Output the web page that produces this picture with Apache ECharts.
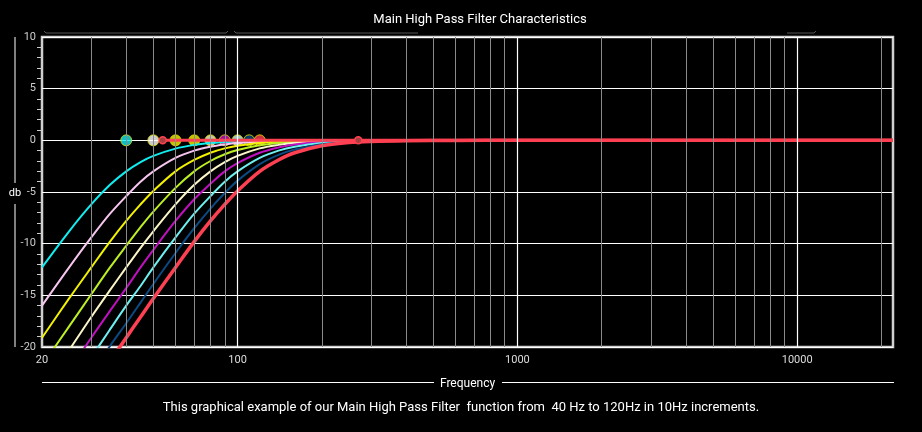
<!DOCTYPE html>
<html>
<head>
<meta charset="utf-8">
<title>Main High Pass Filter Characteristics</title>
<script src="https://cdn.jsdelivr.net/npm/echarts@6/dist/echarts.min.js"></script>
<style>
  html, body { margin: 0; padding: 0; background: #000; }
  #chart { width: 922px; height: 432px; }
</style>
</head>
<body>
<div id="chart"></div>
<script>
var freqs = [20, 25, 30, 35, 40, 45, 50, 60, 70, 80, 90, 100, 120, 140, 160, 200, 250, 300, 400, 600, 1000, 22000];

// cutoff of every curve, and its response in dB at the freqs above
var cutoffs = [40, 50, 60, 70, 80, 90, 100, 110, 120];
var hp40  = [-12.3, -8.8, -6.2, -4.3, -3.0, -2.1, -1.5, -0.8, -0.44, -0.26, -0.17, -0.11, -0.05, -0.03, -0.02, -0.01, 0, 0, 0, 0, 0, 0];
var hp50  = [-16.0, -12.3, -9.4, -7.1, -5.4, -4.0, -3.0, -1.7, -1.0, -0.62, -0.40, -0.26, -0.13, -0.07, -0.04, -0.02, -0.01, 0, 0, 0, 0, 0];
var hp60  = [-19.1, -15.3, -12.3, -9.8, -7.8, -6.2, -4.9, -3.0, -1.9, -1.2, -0.78, -0.53, -0.26, -0.14, -0.09, -0.04, -0.01, -0.01, 0, 0, 0, 0];
var hp70  = [-21.8, -18.0, -14.9, -12.3, -10.2, -8.4, -6.9, -4.6, -3.0, -2.0, -1.35, -0.93, -0.48, -0.26, -0.16, -0.07, -0.03, -0.01, 0, 0, 0, 0];
var hp80  = [-24.1, -20.3, -17.1, -14.5, -12.3, -10.4, -8.8, -6.2, -4.3, -3.0, -2.1, -1.5, -0.78, -0.44, -0.26, -0.11, -0.05, -0.02, -0.01, 0, 0, 0];
var hp90  = [-26.1, -22.3, -19.1, -16.5, -14.3, -12.3, -10.6, -7.8, -5.7, -4.2, -3.0, -2.2, -1.2, -0.69, -0.41, -0.17, -0.07, -0.04, -0.01, 0, 0, 0];
var hp100 = [-28.0, -24.1, -21.0, -18.3, -16.0, -14.1, -12.3, -9.4, -7.1, -5.4, -4.0, -3.0, -1.7, -1.0, -0.62, -0.26, -0.11, -0.05, -0.02, 0, 0, 0];
var hp110 = [-29.6, -25.8, -22.6, -19.9, -17.7, -15.7, -13.9, -10.9, -8.5, -6.6, -5.1, -3.9, -2.3, -1.4, -0.88, -0.38, -0.16, -0.08, -0.03, -0.01, 0, 0];
var hp120 = [-31.1, -27.3, -24.1, -21.4, -19.1, -17.1, -15.3, -12.3, -9.8, -7.8, -6.2, -4.9, -3.0, -1.9, -1.2, -0.53, -0.22, -0.11, -0.04, -0.01, 0, 0];
var curves = [hp40, hp50, hp60, hp70, hp80, hp90, hp100, hp110, hp120];

var lineColors = ['#10eef2', '#f6c6f0', '#f2f200', '#bdf022', '#fbf6c8', '#c010c0', '#6ef0f0', '#0b4a82', '#ff4052'];
var dotColors  = ['#10eef2', '#ffffff', '#f2f200', '#f2f200', '#fbf6c8', '#d010c0', '#c8f6f6', '#0b4a82', '#ff4052'];

// red 0 dB handle line
var handleLine = [[54, 0], [270, 0], [22000, 0]];

// vertical grid lines
var minorFreqs = [30, 40, 50, 60, 70, 80, 90, 200, 300, 400, 500, 600, 700, 800, 900,
                  2000, 3000, 4000, 5000, 6000, 7000, 8000, 9000, 20000];
var majorFreqs = [100, 1000, 10000];
var xTickLabels = [20, 100, 1000, 10000];

var chart = echarts.init(document.getElementById('chart'));

var series = [];

// grid lines as markLines so they follow the log scale
var gridLines = [];
minorFreqs.forEach(function (f) {
    gridLines.push({ xAxis: f, lineStyle: { color: '#8a8a8a', width: 1, type: 'solid' } });
});
majorFreqs.forEach(function (f) {
    gridLines.push({ xAxis: f, lineStyle: { color: '#ffffff', width: 1.2, type: 'solid' } });
});
series.push({
    type: 'line',
    data: [],
    silent: true,
    markLine: { symbol: 'none', silent: true, label: { show: false }, animation: false, data: gridLines }
});

curves.forEach(function (vals, i) {
    series.push({
        name: cutoffs[i] + ' Hz',
        type: 'line',
        smooth: 0.35,
        showSymbol: false,
        clip: true,
        lineStyle: { color: lineColors[i], width: i === 8 ? 3.5 : 2 },
        data: freqs.map(function (f, k) { return [f, vals[k]]; })
    });
});

series.push({
    type: 'scatter',
    symbolSize: 11,
    data: cutoffs.map(function (f, i) {
        return { value: [f, 0], itemStyle: { color: dotColors[i], borderColor: '#e6e600', borderWidth: 1 } };
    })
});

series.push({
    type: 'line',
    lineStyle: { color: '#ff4052', width: 3 },
    symbol: 'circle',
    symbolSize: 7,
    itemStyle: { color: '#a64040', borderColor: '#ff4052', borderWidth: 1.5 },
    data: handleLine.map(function (p, i) {
        return i === handleLine.length - 1 ? { value: p, symbol: 'none' } : { value: p };
    })
});

var option = {
    backgroundColor: '#000',
    animation: false,
    textStyle: { fontFamily: 'Roboto' },
    title: {
        text: 'Main High Pass Filter Characteristics',
        left: 475,
        top: 8,
        textAlign: 'center',
        textStyle: { color: '#fff', fontSize: 13, fontWeight: 'normal' }
    },
    grid: {
        left: 42, right: 29, top: 37, bottom: 85,
        show: true, borderColor: '#d0d0d0', borderWidth: 2.5
    },
    xAxis: {
        type: 'log',
        logBase: 10,
        min: 20,
        max: 22000,
        name: 'Frequency',
        nameLocation: 'middle',
        nameGap: 31,
        nameTextStyle: { color: '#fff', fontSize: 12 },
        axisLine: { show: false },
        axisTick: { show: false },
        splitLine: { show: false },
        axisLabel: {
            color: '#ddd', fontSize: 11, margin: 8,
            showMinLabel: true, showMaxLabel: true,
            formatter: function (v) {
                var r = Math.round(v);
                return xTickLabels.indexOf(r) >= 0 ? String(r) : '';
            }
        }
    },
    yAxis: {
        type: 'value',
        min: -20,
        max: 10,
        interval: 5,
        axisLine: { show: false },
        axisTick: { show: false, inside: true },
        minorTick: { show: true, splitNumber: 5, length: -5, lineStyle: { color: '#ccc' } },
        splitLine: { show: true, lineStyle: { color: '#fff', width: 1.2 } },
        axisLabel: { color: '#ccc', fontSize: 11, margin: 6 }
    },
    graphic: [
        { type: 'text', x: 15, y: 193, style: { text: 'db', fill: '#fff', fontSize: 11, fontFamily: 'Roboto', align: 'center', verticalAlign: 'middle' } },
        { type: 'line', shape: { x1: 15, y1: 37, x2: 15, y2: 183 }, style: { stroke: '#fff', lineWidth: 1 } },
        { type: 'line', shape: { x1: 15, y1: 204, x2: 15, y2: 347 }, style: { stroke: '#fff', lineWidth: 1 } },
        { type: 'line', shape: { x1: 42, y1: 382.5, x2: 434, y2: 382.5 }, style: { stroke: '#fff', lineWidth: 1 } },
        { type: 'line', shape: { x1: 502, y1: 382.5, x2: 894, y2: 382.5 }, style: { stroke: '#fff', lineWidth: 1 } },
        { type: 'polyline', shape: { points: [[44, 31], [46, 33], [226, 33], [228, 31]] }, style: { stroke: '#555', lineWidth: 1, fill: null } },
        { type: 'polyline', shape: { points: [[234, 31], [236, 33], [418, 33]] }, style: { stroke: '#555', lineWidth: 1, fill: null } },
        { type: 'polyline', shape: { points: [[787, 33], [814, 33], [816, 31]] }, style: { stroke: '#555', lineWidth: 1, fill: null } },
        {
            type: 'text', left: 'center', top: 401,
            style: {
                text: 'This graphical example of our Main High Pass Filter  function from  40 Hz to 120Hz in 10Hz increments.',
                fill: '#fff', fontSize: 13, fontFamily: 'Roboto'
            }
        }
    ],
    series: series
};

chart.setOption(option);
</script>
</body>
</html>
